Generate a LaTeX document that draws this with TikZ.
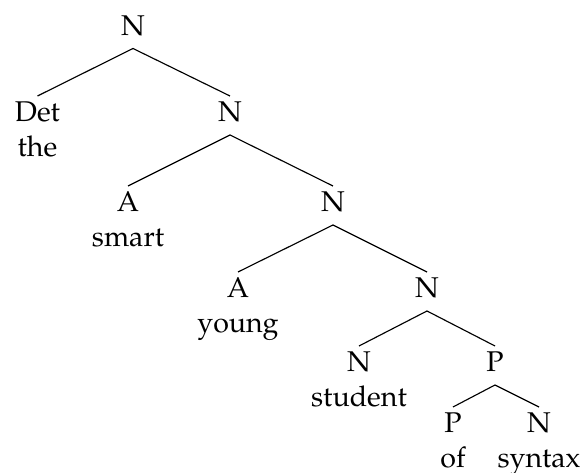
\documentclass[tikz,border=0pt]{standalone}
\usepackage[T1]{fontenc}
\usepackage{mathpazo}
\begin{document}
\begin{tikzpicture}[x=0.35pt,y=-0.35pt,
  cat/.style={anchor=base,inner sep=0pt,font=\fontsize{10}{12}\selectfont},
  word/.style={anchor=base,inner sep=0pt,font=\fontsize{10}{12}\selectfont},
  edge/.style={line width=0.4pt}]
\useasboundingbox (0,0) rectangle (584,473);
% categories
\node[cat] (n1) at (133,35.5) {N};
\node[cat] (det) at (37.5,122) {Det};
\node[word] (wthe) at (37.5,157) {the};
\node[cat] (n2) at (230,122) {N};
\node[cat] (a1) at (128,212) {A};
\node[word] (wsmart) at (128,247) {smart};
\node[cat] (n3) at (333,212) {N};
\node[cat] (a2) at (238,298) {A};
\node[word] (wyoung) at (238,333) {young};
\node[cat] (n4) at (427,298) {N};
\node[cat] (n5) at (359,372) {N};
\node[word] (wstudent) at (359,407) {student};
\node[cat] (p1) at (495,372) {P};
\node[cat] (p2) at (453,433) {P};
\node[word] (wof) at (453,468) {of};
\node[cat] (n6) at (539,433) {N};
\node[word] (wsyntax) at (539,468) {syntax};
% edges
\foreach \p/\c in {n1/det,n1/n2,n2/a1,n2/n3,n3/a2,n3/n4,n4/n5,n4/p1,p1/p2,p1/n6}
  \draw[edge] ([yshift=-4.55pt]\p.base) -- ([yshift=9.1pt]\c.base);
\end{tikzpicture}
\end{document}
